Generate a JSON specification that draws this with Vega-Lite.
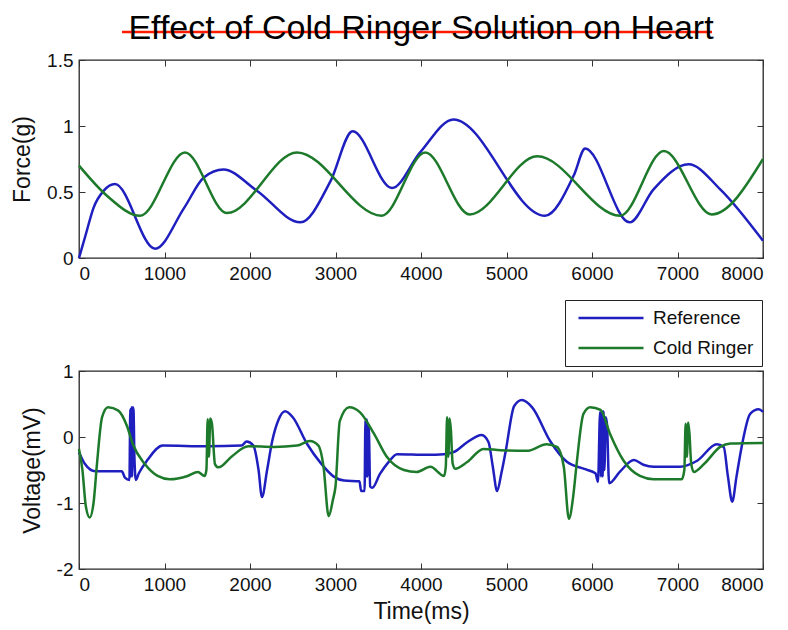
{
  "$schema": "https://vega.github.io/schema/vega-lite/v6.json",
  "padding": {"left": 10, "top": 11, "right": 0, "bottom": 2},
  "background": "white",
  "datasets": {
    "force": [
      {"t": 0, "v": 0.0, "s": "Reference"},
      {"t": 80, "v": 0.18, "s": "Reference"},
      {"t": 170, "v": 0.38, "s": "Reference"},
      {"t": 290, "v": 0.51, "s": "Reference"},
      {"t": 420, "v": 0.56, "s": "Reference"},
      {"t": 890, "v": 0.07, "s": "Reference"},
      {"t": 1230, "v": 0.38, "s": "Reference"},
      {"t": 1460, "v": 0.61, "s": "Reference"},
      {"t": 1690, "v": 0.67, "s": "Reference"},
      {"t": 2080, "v": 0.51, "s": "Reference"},
      {"t": 2590, "v": 0.27, "s": "Reference"},
      {"t": 2940, "v": 0.58, "s": "Reference"},
      {"t": 3200, "v": 0.96, "s": "Reference"},
      {"t": 3660, "v": 0.53, "s": "Reference"},
      {"t": 3990, "v": 0.8, "s": "Reference"},
      {"t": 4380, "v": 1.05, "s": "Reference"},
      {"t": 5450, "v": 0.32, "s": "Reference"},
      {"t": 5790, "v": 0.63, "s": "Reference"},
      {"t": 5920, "v": 0.83, "s": "Reference"},
      {"t": 6440, "v": 0.27, "s": "Reference"},
      {"t": 6720, "v": 0.52, "s": "Reference"},
      {"t": 7130, "v": 0.71, "s": "Reference"},
      {"t": 7500, "v": 0.52, "s": "Reference"},
      {"t": 8000, "v": 0.13, "s": "Reference"},
      {"t": 0, "v": 0.7, "s": "Cold Ringer"},
      {"t": 330, "v": 0.47, "s": "Cold Ringer"},
      {"t": 715, "v": 0.32, "s": "Cold Ringer"},
      {"t": 1240, "v": 0.8, "s": "Cold Ringer"},
      {"t": 1730, "v": 0.34, "s": "Cold Ringer"},
      {"t": 2550, "v": 0.8, "s": "Cold Ringer"},
      {"t": 3540, "v": 0.32, "s": "Cold Ringer"},
      {"t": 4050, "v": 0.8, "s": "Cold Ringer"},
      {"t": 4570, "v": 0.33, "s": "Cold Ringer"},
      {"t": 5360, "v": 0.77, "s": "Cold Ringer"},
      {"t": 6330, "v": 0.32, "s": "Cold Ringer"},
      {"t": 6840, "v": 0.81, "s": "Cold Ringer"},
      {"t": 7400, "v": 0.33, "s": "Cold Ringer"},
      {"t": 8000, "v": 0.75, "s": "Cold Ringer"}
    ],
    "voltage": [
      {"t": 0, "v": -0.23, "s": "Reference"},
      {"t": 70, "v": -0.41, "s": "Reference"},
      {"t": 190, "v": -0.52, "s": "Reference"},
      {"t": 500, "v": -0.52, "s": "Reference"},
      {"t": 540, "v": -0.62, "s": "Reference"},
      {"t": 590, "v": -0.65, "s": "Reference"},
      {"t": 600, "v": 0.42, "s": "Reference"},
      {"t": 607, "v": -0.6, "s": "Reference"},
      {"t": 614, "v": 0.45, "s": "Reference"},
      {"t": 621, "v": -0.6, "s": "Reference"},
      {"t": 628, "v": 0.45, "s": "Reference"},
      {"t": 638, "v": 0.4, "s": "Reference"},
      {"t": 648, "v": -0.3, "s": "Reference"},
      {"t": 665, "v": -0.65, "s": "Reference"},
      {"t": 700, "v": -0.55, "s": "Reference"},
      {"t": 800, "v": -0.35, "s": "Reference"},
      {"t": 980, "v": -0.13, "s": "Reference"},
      {"t": 1500, "v": -0.14, "s": "Reference"},
      {"t": 1900, "v": -0.13, "s": "Reference"},
      {"t": 1960, "v": -0.07, "s": "Reference"},
      {"t": 2040, "v": -0.13, "s": "Reference"},
      {"t": 2100, "v": -0.5, "s": "Reference"},
      {"t": 2140, "v": -0.91, "s": "Reference"},
      {"t": 2200, "v": -0.5, "s": "Reference"},
      {"t": 2260, "v": -0.06, "s": "Reference"},
      {"t": 2330, "v": 0.25, "s": "Reference"},
      {"t": 2410, "v": 0.39, "s": "Reference"},
      {"t": 2500, "v": 0.3, "s": "Reference"},
      {"t": 2670, "v": -0.11, "s": "Reference"},
      {"t": 2830, "v": -0.4, "s": "Reference"},
      {"t": 2980, "v": -0.6, "s": "Reference"},
      {"t": 3100, "v": -0.66, "s": "Reference"},
      {"t": 3280, "v": -0.67, "s": "Reference"},
      {"t": 3300, "v": -0.82, "s": "Reference"},
      {"t": 3340, "v": -0.82, "s": "Reference"},
      {"t": 3350, "v": 0.25, "s": "Reference"},
      {"t": 3358, "v": -0.6, "s": "Reference"},
      {"t": 3366, "v": 0.27, "s": "Reference"},
      {"t": 3374, "v": -0.6, "s": "Reference"},
      {"t": 3382, "v": 0.2, "s": "Reference"},
      {"t": 3392, "v": 0.05, "s": "Reference"},
      {"t": 3405, "v": -0.75, "s": "Reference"},
      {"t": 3430, "v": -0.77, "s": "Reference"},
      {"t": 3520, "v": -0.56, "s": "Reference"},
      {"t": 3620, "v": -0.38, "s": "Reference"},
      {"t": 3720, "v": -0.26, "s": "Reference"},
      {"t": 4070, "v": -0.27, "s": "Reference"},
      {"t": 4270, "v": -0.26, "s": "Reference"},
      {"t": 4380, "v": -0.23, "s": "Reference"},
      {"t": 4540, "v": -0.08, "s": "Reference"},
      {"t": 4710, "v": 0.03, "s": "Reference"},
      {"t": 4790, "v": -0.08, "s": "Reference"},
      {"t": 4840, "v": -0.45, "s": "Reference"},
      {"t": 4890, "v": -0.82, "s": "Reference"},
      {"t": 4940, "v": -0.55, "s": "Reference"},
      {"t": 4990, "v": -0.22, "s": "Reference"},
      {"t": 5090, "v": 0.47, "s": "Reference"},
      {"t": 5180, "v": 0.56, "s": "Reference"},
      {"t": 5300, "v": 0.45, "s": "Reference"},
      {"t": 5510, "v": -0.06, "s": "Reference"},
      {"t": 5710, "v": -0.38, "s": "Reference"},
      {"t": 5900, "v": -0.48, "s": "Reference"},
      {"t": 6040, "v": -0.55, "s": "Reference"},
      {"t": 6070, "v": -0.68, "s": "Reference"},
      {"t": 6095, "v": 0.38, "s": "Reference"},
      {"t": 6105, "v": -0.6, "s": "Reference"},
      {"t": 6115, "v": 0.39, "s": "Reference"},
      {"t": 6125, "v": -0.6, "s": "Reference"},
      {"t": 6135, "v": 0.39, "s": "Reference"},
      {"t": 6145, "v": -0.5, "s": "Reference"},
      {"t": 6160, "v": 0.3, "s": "Reference"},
      {"t": 6175, "v": 0.2, "s": "Reference"},
      {"t": 6200, "v": -0.7, "s": "Reference"},
      {"t": 6330, "v": -0.52, "s": "Reference"},
      {"t": 6490, "v": -0.35, "s": "Reference"},
      {"t": 6600, "v": -0.42, "s": "Reference"},
      {"t": 6720, "v": -0.45, "s": "Reference"},
      {"t": 7030, "v": -0.45, "s": "Reference"},
      {"t": 7230, "v": -0.36, "s": "Reference"},
      {"t": 7460, "v": -0.11, "s": "Reference"},
      {"t": 7540, "v": -0.15, "s": "Reference"},
      {"t": 7590, "v": -0.6, "s": "Reference"},
      {"t": 7640, "v": -0.98, "s": "Reference"},
      {"t": 7690, "v": -0.6, "s": "Reference"},
      {"t": 7750, "v": -0.15, "s": "Reference"},
      {"t": 7850, "v": 0.35, "s": "Reference"},
      {"t": 7950, "v": 0.42, "s": "Reference"},
      {"t": 8000, "v": 0.38, "s": "Reference"},
      {"t": 0, "v": -0.18, "s": "Cold Ringer"},
      {"t": 40, "v": -0.5, "s": "Cold Ringer"},
      {"t": 80, "v": -1.05, "s": "Cold Ringer"},
      {"t": 125, "v": -1.22, "s": "Cold Ringer"},
      {"t": 170, "v": -1.0, "s": "Cold Ringer"},
      {"t": 210, "v": -0.41, "s": "Cold Ringer"},
      {"t": 270, "v": 0.3, "s": "Cold Ringer"},
      {"t": 340, "v": 0.45, "s": "Cold Ringer"},
      {"t": 460, "v": 0.4, "s": "Cold Ringer"},
      {"t": 560, "v": 0.17, "s": "Cold Ringer"},
      {"t": 630, "v": -0.11, "s": "Cold Ringer"},
      {"t": 770, "v": -0.41, "s": "Cold Ringer"},
      {"t": 920, "v": -0.59, "s": "Cold Ringer"},
      {"t": 1060, "v": -0.64, "s": "Cold Ringer"},
      {"t": 1270, "v": -0.59, "s": "Cold Ringer"},
      {"t": 1390, "v": -0.53, "s": "Cold Ringer"},
      {"t": 1470, "v": -0.59, "s": "Cold Ringer"},
      {"t": 1490, "v": -0.5, "s": "Cold Ringer"},
      {"t": 1505, "v": 0.27, "s": "Cold Ringer"},
      {"t": 1520, "v": -0.3, "s": "Cold Ringer"},
      {"t": 1535, "v": 0.28, "s": "Cold Ringer"},
      {"t": 1555, "v": 0.2, "s": "Cold Ringer"},
      {"t": 1590, "v": -0.41, "s": "Cold Ringer"},
      {"t": 1630, "v": -0.46, "s": "Cold Ringer"},
      {"t": 1790, "v": -0.29, "s": "Cold Ringer"},
      {"t": 1980, "v": -0.14, "s": "Cold Ringer"},
      {"t": 2280, "v": -0.15, "s": "Cold Ringer"},
      {"t": 2550, "v": -0.13, "s": "Cold Ringer"},
      {"t": 2700, "v": -0.06, "s": "Cold Ringer"},
      {"t": 2800, "v": -0.13, "s": "Cold Ringer"},
      {"t": 2860, "v": -0.45, "s": "Cold Ringer"},
      {"t": 2920, "v": -1.2, "s": "Cold Ringer"},
      {"t": 2970, "v": -0.95, "s": "Cold Ringer"},
      {"t": 3000, "v": -0.75, "s": "Cold Ringer"},
      {"t": 3050, "v": 0.24, "s": "Cold Ringer"},
      {"t": 3160, "v": 0.45, "s": "Cold Ringer"},
      {"t": 3290, "v": 0.37, "s": "Cold Ringer"},
      {"t": 3450, "v": 0.05, "s": "Cold Ringer"},
      {"t": 3600, "v": -0.3, "s": "Cold Ringer"},
      {"t": 3800, "v": -0.5, "s": "Cold Ringer"},
      {"t": 3950, "v": -0.53, "s": "Cold Ringer"},
      {"t": 4110, "v": -0.45, "s": "Cold Ringer"},
      {"t": 4270, "v": -0.59, "s": "Cold Ringer"},
      {"t": 4290, "v": -0.45, "s": "Cold Ringer"},
      {"t": 4305, "v": 0.3, "s": "Cold Ringer"},
      {"t": 4320, "v": -0.3, "s": "Cold Ringer"},
      {"t": 4335, "v": 0.28, "s": "Cold Ringer"},
      {"t": 4350, "v": 0.1, "s": "Cold Ringer"},
      {"t": 4370, "v": -0.4, "s": "Cold Ringer"},
      {"t": 4400, "v": -0.48, "s": "Cold Ringer"},
      {"t": 4540, "v": -0.38, "s": "Cold Ringer"},
      {"t": 4730, "v": -0.18, "s": "Cold Ringer"},
      {"t": 4930, "v": -0.2, "s": "Cold Ringer"},
      {"t": 5240, "v": -0.21, "s": "Cold Ringer"},
      {"t": 5470, "v": -0.11, "s": "Cold Ringer"},
      {"t": 5590, "v": -0.15, "s": "Cold Ringer"},
      {"t": 5670, "v": -0.45, "s": "Cold Ringer"},
      {"t": 5730, "v": -1.24, "s": "Cold Ringer"},
      {"t": 5780, "v": -0.9, "s": "Cold Ringer"},
      {"t": 5820, "v": -0.41, "s": "Cold Ringer"},
      {"t": 5900, "v": 0.35, "s": "Cold Ringer"},
      {"t": 5980, "v": 0.45, "s": "Cold Ringer"},
      {"t": 6100, "v": 0.41, "s": "Cold Ringer"},
      {"t": 6210, "v": 0.05, "s": "Cold Ringer"},
      {"t": 6370, "v": -0.36, "s": "Cold Ringer"},
      {"t": 6560, "v": -0.59, "s": "Cold Ringer"},
      {"t": 6720, "v": -0.64, "s": "Cold Ringer"},
      {"t": 7050, "v": -0.64, "s": "Cold Ringer"},
      {"t": 7080, "v": -0.5, "s": "Cold Ringer"},
      {"t": 7095, "v": 0.2, "s": "Cold Ringer"},
      {"t": 7110, "v": -0.3, "s": "Cold Ringer"},
      {"t": 7125, "v": 0.22, "s": "Cold Ringer"},
      {"t": 7140, "v": 0.05, "s": "Cold Ringer"},
      {"t": 7160, "v": -0.4, "s": "Cold Ringer"},
      {"t": 7190, "v": -0.53, "s": "Cold Ringer"},
      {"t": 7310, "v": -0.41, "s": "Cold Ringer"},
      {"t": 7500, "v": -0.15, "s": "Cold Ringer"},
      {"t": 7620, "v": -0.1, "s": "Cold Ringer"},
      {"t": 8000, "v": -0.09, "s": "Cold Ringer"}
    ]
  },
  "config": {
    "font": "Liberation Sans",
    "view": {"stroke": "#262626", "strokeWidth": 1.3},
    "axis": {
      "domain": false,
      "grid": false,
      "tickSize": -6,
      "tickColor": "#333333",
      "tickWidth": 1,
      "labelFont": "Liberation Sans",
      "labelFontSize": 19,
      "labelColor": "#111111",
      "labelPadding": 12,
      "titleFont": "Liberation Sans",
      "titleFontSize": 23,
      "titleFontWeight": "normal",
      "titleColor": "#111111"
    }
  },
  "spacing": 14,
  "resolve": {"legend": {"color": "independent"}, "scale": {"color": "independent"}},
  "vconcat": [
    {
      "width": 684,
      "height": 198,
      "title": {"text": "Effect of Cold Ringer Solution on Heart", "font": "Liberation Sans", "fontSize": 34, "fontWeight": "normal", "color": "#000000", "anchor": "middle", "frame": "group", "offset": -15},
      "resolve": {"axis": {"x": "independent", "y": "independent"}},
      "layer": [
        {
          "data": {"name": "force"},
          "transform": [{"filter": "datum.s === 'Reference'"}],
          "mark": {"type": "line", "color": "#1f1fbf", "strokeWidth": 2.5, "interpolate": "monotone"},
          "encoding": {
            "x": {"field": "t", "type": "quantitative", "scale": {"domain": [0, 8000], "nice": false},
                  "axis": {"values": [0,1000,2000,3000,4000,5000,6000,7000,8000], "labelExpr": "'' + datum.value", "title": null}},
            "y": {"field": "v", "type": "quantitative", "scale": {"domain": [0, 1.5], "nice": false, "zero": false},
                  "axis": {"values": [0, 0.5, 1, 1.5], "format": "~g", "title": "Force(g)", "titlePadding": 12}}
          }
        },
        {
          "data": {"name": "force"},
          "transform": [{"filter": "datum.s === 'Cold Ringer'"}],
          "mark": {"type": "line", "color": "#1d7a2b", "strokeWidth": 2.5, "interpolate": "monotone"},
          "encoding": {
            "x": {"field": "t", "type": "quantitative", "scale": {"domain": [0, 8000], "nice": false},
                  "axis": {"orient": "top", "values": [0,1000,2000,3000,4000,5000,6000,7000,8000], "labels": false, "title": null}},
            "y": {"field": "v", "type": "quantitative", "scale": {"domain": [0, 1.5], "nice": false, "zero": false},
                  "axis": {"orient": "right", "values": [0, 0.5, 1, 1.5], "labels": false, "title": null}}
          }
        },
        {
          "data": {"values": [{}]},
          "mark": {"type": "rule", "color": "#ff1a00", "strokeWidth": 2.5},
          "encoding": {
            "x": {"datum": 503, "type": "quantitative", "scale": {"domain": [0, 8000], "nice": false}, "axis": null},
            "x2": {"datum": 7404},
            "y": {"datum": 1.712, "type": "quantitative", "scale": {"domain": [0, 1.5], "nice": false, "zero": false}, "axis": null}
          }
        }
      ]
    },
    {
      "width": 684,
      "height": 198,
      "resolve": {"axis": {"x": "independent", "y": "independent"}},
      "layer": [
        {
          "data": {"name": "voltage"},
          "transform": [{"filter": "datum.s === 'Reference'"}],
          "mark": {"type": "line", "strokeWidth": 2.5, "interpolate": "monotone"},
          "encoding": {
            "x": {"field": "t", "type": "quantitative", "scale": {"domain": [0, 8000], "nice": false},
                  "axis": {"values": [0,1000,2000,3000,4000,5000,6000,7000,8000], "labelExpr": "'' + datum.value", "title": "Time(ms)", "titlePadding": 6}},
            "y": {"field": "v", "type": "quantitative", "scale": {"domain": [-2, 1], "nice": false, "zero": false},
                  "axis": {"values": [-2, -1, 0, 1], "labelExpr": "'' + datum.value", "title": "Voltage(mV)", "titlePadding": 12}},
            "color": {"field": "s", "type": "nominal",
                      "scale": {"domain": ["Reference", "Cold Ringer"], "range": ["#1f1fbf", "#1d7a2b"]},
                      "legend": {"orient": "none", "legendX": 486, "legendY": -71, "title": null, "symbolType": "stroke", "symbolSize": 4225, "symbolStrokeWidth": 2.5, "clipHeight": 20, "rowPadding": 10, "padding": 8, "symbolOffset": 4, "labelOffset": 8, "labelFont": "Liberation Sans", "labelFontSize": 19, "labelColor": "#111111", "strokeColor": "#222222", "fillColor": "white", "direction": "vertical"}}
          }
        },
        {
          "data": {"name": "voltage"},
          "transform": [{"filter": "datum.s === 'Cold Ringer'"}],
          "mark": {"type": "line", "strokeWidth": 2.5, "interpolate": "monotone"},
          "encoding": {
            "x": {"field": "t", "type": "quantitative", "scale": {"domain": [0, 8000], "nice": false},
                  "axis": {"orient": "top", "values": [0,1000,2000,3000,4000,5000,6000,7000,8000], "labels": false, "title": null}},
            "y": {"field": "v", "type": "quantitative", "scale": {"domain": [-2, 1], "nice": false, "zero": false},
                  "axis": {"orient": "right", "values": [-2, -1, 0, 1], "labels": false, "title": null}},
            "color": {"field": "s", "type": "nominal",
                      "scale": {"domain": ["Reference", "Cold Ringer"], "range": ["#1f1fbf", "#1d7a2b"]}}
          }
        }
      ]
    }
  ]
}
